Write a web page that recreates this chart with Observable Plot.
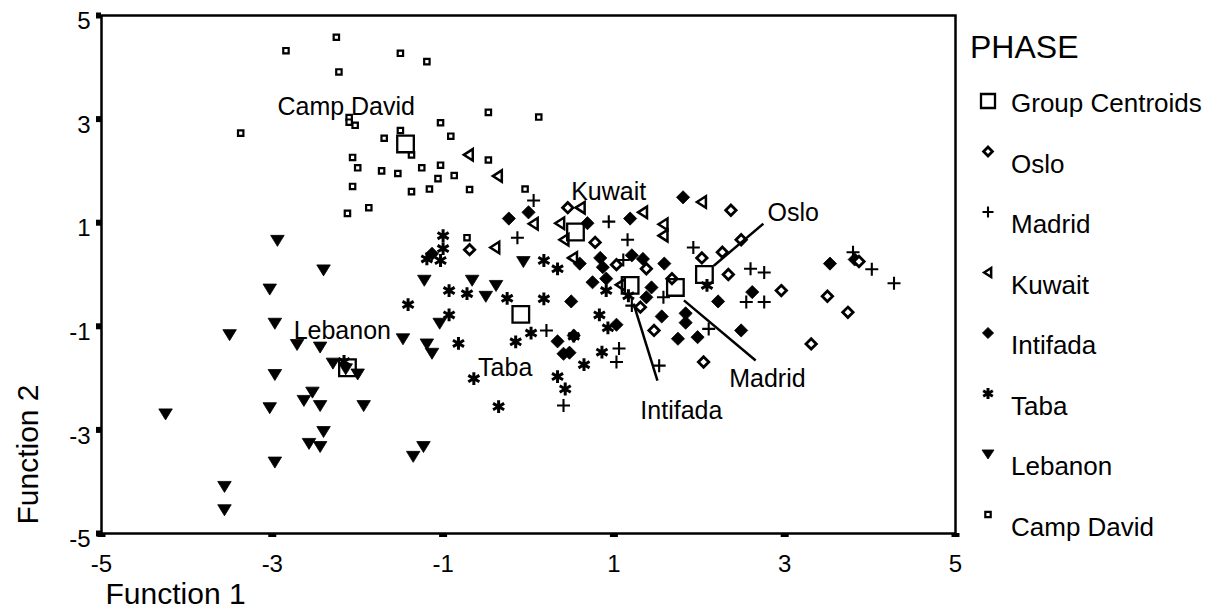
<!DOCTYPE html>
<html><head><meta charset="utf-8">
<script src="https://cdn.jsdelivr.net/npm/d3@7"></script>
<script src="https://cdn.jsdelivr.net/npm/@observablehq/plot@0.6"></script>
<style>
body{margin:0;background:#fff;}
#chart{position:relative;width:1217px;height:612px;font-family:"Liberation Sans",Arial,Helvetica,sans-serif;}
#legend{position:absolute;left:0;top:0;pointer-events:none;}
</style></head><body><div id="chart"></div>
<script>
// ---------- data (Function 1, Function 2) ----------
const osloPts = [[0.46,1.29],[0.78,0.62],[1.03,0.19],[-0.69,0.48],[1.38,0.11],[1.31,-0.63],[1.47,-1.08],[2.05,-1.69],[2.37,1.24],[2.03,0.32],[2.34,0.00],[2.27,0.43],[2.49,0.67],[1.68,-0.08],[2.96,-0.31],[3.50,-0.42],[3.74,-0.73],[3.31,-1.34],[3.87,0.25]];
const madridPts = [[0.06,1.43],[-0.13,0.71],[0.94,1.02],[1.16,0.67],[1.93,0.52],[1.11,0.28],[1.21,-0.60],[1.58,-0.44],[2.11,-1.05],[2.55,-0.53],[2.76,-0.53],[2.60,0.11],[2.76,0.04],[0.21,-1.08],[1.06,-1.43],[1.03,-1.69],[1.53,-1.76],[3.80,0.43],[4.02,0.10],[4.28,-0.17],[0.41,-2.53]];
const kuwaitPts = [[-0.70,2.31],[-0.36,1.90],[0.06,0.98],[0.61,1.29],[0.37,0.99],[0.42,0.67],[-0.39,0.52],[0.52,0.32],[1.34,1.20],[1.58,0.97],[1.58,0.75],[2.03,1.40],[1.08,-0.20]];
const intifadaPts = [[-0.23,1.08],[0.00,1.20],[0.69,0.99],[1.19,1.08],[1.81,1.49],[0.60,0.21],[0.84,0.32],[0.87,0.14],[1.21,0.37],[1.34,0.30],[1.59,0.21],[0.75,-0.15],[0.91,-0.08],[1.44,-0.25],[0.50,-0.52],[1.38,-0.44],[1.56,-0.81],[1.84,-0.75],[1.84,-0.93],[1.75,-1.24],[1.98,-1.21],[2.22,-0.52],[2.49,-1.08],[1.03,-0.97],[0.34,-1.29],[0.53,-1.18],[0.41,-1.53],[0.48,-1.51],[2.62,-0.34],[3.53,0.21],[3.82,0.29],[-1.13,0.40]];
const tabaPts = [[-1.00,0.75],[-1.00,0.50],[-1.19,0.30],[-1.03,0.27],[0.18,0.27],[0.34,0.11],[-0.93,-0.31],[-0.72,-0.37],[-0.25,-0.46],[-1.41,-0.58],[0.18,-0.47],[-0.93,-0.78],[-0.82,-1.33],[-0.15,-1.30],[0.03,-1.13],[0.83,-0.78],[0.91,-0.31],[0.93,-1.03],[0.65,-1.74],[0.86,-1.50],[0.53,-1.19],[2.09,-0.21],[1.17,-0.41],[-0.64,-2.01],[-0.35,-2.55],[0.34,-1.97],[0.43,-2.21],[-2.16,-1.68]];
const lebanonPts = [[-2.94,0.66],[-2.40,0.09],[-3.03,-0.28],[-2.97,-0.94],[-3.50,-1.16],[-2.71,-1.35],[-2.44,-1.40],[-1.47,-1.24],[-1.19,-1.34],[-1.13,-1.52],[-1.22,-0.11],[-0.66,-0.11],[-0.38,-0.21],[-0.50,-0.42],[-0.06,0.25],[-1.04,-0.94],[-2.29,-1.71],[-2.14,-1.82],[-2.00,-1.92],[-2.97,-1.93],[-2.53,-2.27],[-2.63,-2.43],[-2.44,-2.53],[-3.03,-2.57],[-1.93,-2.53],[-4.25,-2.69],[-2.40,-3.03],[-2.57,-3.26],[-2.44,-3.32],[-1.23,-3.32],[-1.35,-3.51],[-2.97,-3.62],[-3.56,-4.09],[-3.56,-4.54]];
const campDavidPts = [[-2.25,4.58],[-2.84,4.32],[-1.50,4.27],[-1.19,4.11],[-2.22,3.91],[-0.47,3.13],[0.12,3.04],[-2.10,3.03],[-2.10,2.94],[-2.03,2.88],[-3.37,2.73],[-1.03,2.93],[-1.50,2.78],[-1.69,2.63],[-0.91,2.67],[-1.37,2.31],[-2.06,2.26],[-0.47,2.21],[-2.00,2.06],[-1.72,2.00],[-1.53,1.95],[-1.25,2.06],[-1.03,2.11],[-0.87,1.91],[-1.06,1.85],[-2.06,1.70],[-1.37,1.60],[-1.16,1.65],[-0.69,1.64],[-0.04,1.65],[-1.87,1.29],[-2.12,1.18],[-0.72,0.71]];

const centroidNames = ["Oslo","Madrid","Kuwait","Intifada","Taba","Lebanon","Camp David"];
const centroidX = [2.06,1.72,0.55,1.19,-0.09,-2.12,-1.44];
const centroidY = [0.00,-0.25,0.82,-0.21,-0.77,-1.80,2.52];

const labelNames = ["Camp David","Kuwait","Oslo","Lebanon","Taba","Intifada","Madrid"];
const labelX = [-2.94,0.50,2.80,-2.75,-0.59,1.31,2.35];
const labelY = [3.23,1.59,1.19,-1.10,-1.80,-2.63,-2.01];

const calloutNames = ["Oslo","Madrid","Intifada"];
const calloutX1 = [2.17,1.82,1.23];
const calloutY1 = [0.17,-0.50,-0.56];
const calloutX2 = [2.75,2.66,1.51];
const calloutY2 = [0.98,-1.66,-2.05];

const xTicks = [-5,-3,-1,1,3,5];
const xTickLabels = ["-5","-3","-1","1","3","5"];
const yTicks = [5,3,1,-1,-3,-5];
const yTickLabels = ["5","3","1","-1","-3","-5"];

const legendTitle = "PHASE";
const legendLabels = ["Group Centroids","Oslo","Madrid","Kuwait","Intifada","Taba","Lebanon","Camp David"];

// ---------- symbols ----------
const square = h => ({draw(c){c.moveTo(-h,-h);c.lineTo(h,-h);c.lineTo(h,h);c.lineTo(-h,h);c.closePath();}});
const diamond = h => ({draw(c){c.moveTo(0,-h);c.lineTo(h,0);c.lineTo(0,h);c.lineTo(-h,0);c.closePath();}});
const plus = h => ({draw(c){c.moveTo(-h,0);c.lineTo(h,0);c.moveTo(0,-h);c.lineTo(0,h);}});
const triLeft = (w,h) => ({draw(c){c.moveTo(-w*0.55,0);c.lineTo(w*0.45,-h/2);c.lineTo(w*0.45,h/2);c.closePath();}});
const triDown = (w,h) => ({draw(c){c.moveTo(-w/2,-h*0.45);c.lineTo(w/2,-h*0.45);c.lineTo(0,h*0.55);c.closePath();}});
const asterisk = h => ({draw(c){for(const a of [90,30,150]){const r=a*Math.PI/180;c.moveTo(-h*Math.cos(r),-h*Math.sin(r));c.lineTo(h*Math.cos(r),h*Math.sin(r));}}});

const styles = {
  "Group Centroids": {sym: square(8.3), legSym: square(7), fill:"none", stroke:"black", strokeWidth:2.3},
  "Oslo": {sym: diamond(5.2), legSym: diamond(4.4), fill:"white", stroke:"black", strokeWidth:2.8},
  "Madrid": {sym: plus(6.5), legSym: plus(5.5), fill:"none", stroke:"black", strokeWidth:2.1},
  "Kuwait": {sym: triLeft(9,11.5), legSym: triLeft(7,9), fill:"white", stroke:"black", strokeWidth:2.5},
  "Intifada": {sym: diamond(6.6), legSym: diamond(5.6), fill:"black", stroke:"black", strokeWidth:0.8},
  "Taba": {sym: asterisk(6.4), legSym: asterisk(5.6), fill:"none", stroke:"black", strokeWidth:3},
  "Lebanon": {sym: triDown(13.5,11), legSym: triDown(12,9), fill:"black", stroke:"black", strokeWidth:0.8},
  "Camp David": {sym: square(2.7), legSym: square(2.7), fill:"white", stroke:"black", strokeWidth:2.2}
};

const toRows = arr => arr.map(([x,y]) => ({x, y}));
const series = [
  ["Camp David", campDavidPts], ["Lebanon", lebanonPts], ["Taba", tabaPts],
  ["Intifada", intifadaPts], ["Kuwait", kuwaitPts], ["Madrid", madridPts], ["Oslo", osloPts]
];
const dotMarks = series.map(([name, pts]) => {
  const s = styles[name];
  return Plot.dot(toRows(pts), {x:"x", y:"y", symbol:s.sym, fill:s.fill, stroke:s.stroke, strokeWidth:s.strokeWidth});
});
const cs = styles["Group Centroids"];
const centroidRows = centroidNames.map((n,i) => ({name:n, x:centroidX[i], y:centroidY[i]}));
const labelRows = labelNames.map((n,i) => ({name:n, x:labelX[i], y:labelY[i]}));
const calloutRows = calloutNames.map((n,i) => ({name:n, x1:calloutX1[i], y1:calloutY1[i], x2:calloutX2[i], y2:calloutY2[i]}));

const font = '"Liberation Sans", Arial, Helvetica, sans-serif';
const chart = Plot.plot({
  width: 1217, height: 612,
  marginLeft: 101, marginRight: 262, marginTop: 15, marginBottom: 79,
  x: {domain: [-5, 5], axis: null},
  y: {domain: [-5, 5], axis: null},
  style: {fontFamily: font, background: "white", color: "black", overflow: "visible"},
  marks: [
    ...dotMarks,
    Plot.dot(centroidRows, {x:"x", y:"y", symbol:cs.sym, fill:cs.fill, stroke:cs.stroke, strokeWidth:cs.strokeWidth}),
    Plot.link(calloutRows, {x1:"x1", y1:"y1", x2:"x2", y2:"y2", stroke:"black", strokeWidth:2.5}),
    Plot.text(labelRows, {x:"x", y:"y", text:"name", textAnchor:"start", lineAnchor:"middle", fontSize:25, fill:"black"}),
    Plot.frame({stroke:"black", strokeWidth:2.5}),
    Plot.axisX({ticks:xTicks, tickSize:4, strokeWidth:8, fill:"none", label:null}),
    Plot.axisX({ticks:xTicks, tickSize:0, tickPadding:21, fontSize:24, label:null, tickFormat:(d)=>xTickLabels[xTicks.indexOf(d)]}),
    Plot.axisY({ticks:yTicks, tickSize:5, strokeWidth:6, fill:"none", label:null}),
    Plot.axisY({ticks:yTicks, tickSize:0, tickPadding:11, dy:6, fontSize:24, label:null, tickFormat:(d)=>yTickLabels[yTicks.indexOf(d)]}),
    Plot.text(["Function 1"], {frameAnchor:"bottom-left", dx:4, dy:61, textAnchor:"start", lineAnchor:"middle", fontSize:30, fill:"black"}),
    Plot.text(["Function 2"], {frameAnchor:"left", dx:-73, dy:180, rotate:-90, textAnchor:"middle", lineAnchor:"middle", fontSize:30, fill:"black"})
  ]
});
const root = document.getElementById("chart");
root.appendChild(chart);

// ---------- legend ----------
const leg = d3.select(root).append("svg").attr("id","legend").attr("width",1217).attr("height",612)
  .style("font-family", font);
leg.append("text").attr("x",970).attr("y",58).attr("font-size",32).attr("fill","black").text(legendTitle);
legendLabels.forEach((name, i) => {
  const base = 112 + 60.5 * i;
  const s = styles[name];
  const p = d3.path(); s.legSym.draw(p, 0);
  const cy = name === "Group Centroids" ? base - 11 : base - 21;
  leg.append("path").attr("d", p.toString()).attr("transform", `translate(988,${cy})`)
    .attr("fill", s.fill).attr("stroke", s.stroke).attr("stroke-width", s.strokeWidth);
  leg.append("text").attr("x",1011).attr("y",base).attr("font-size",26).attr("fill","black").text(name);
});
</script></body></html>
